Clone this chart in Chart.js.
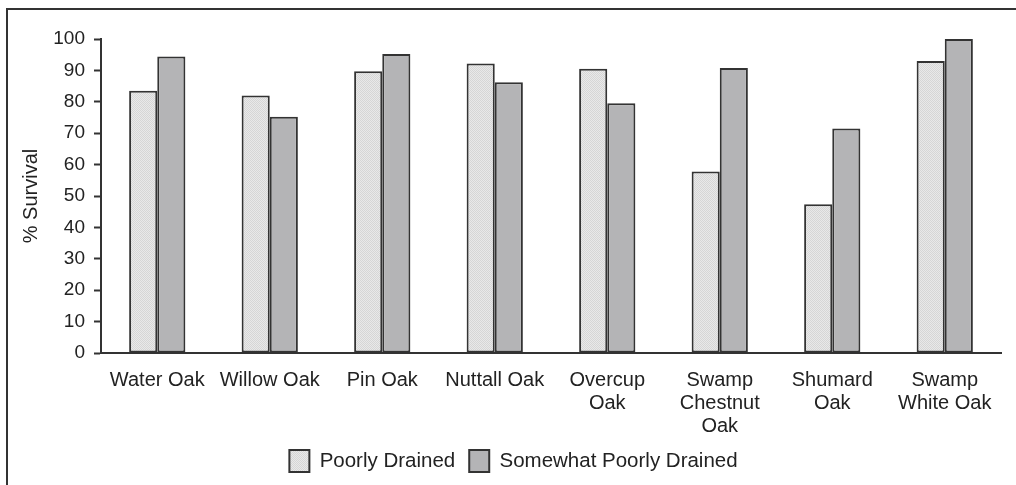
<!DOCTYPE html>
<html>
<head>
<meta charset="utf-8">
<script src="https://cdn.jsdelivr.net/npm/chart.js@4.4.1/dist/chart.umd.min.js"></script>
<style>
  html, body { margin: 0; padding: 0; background: #fff; }
  body { width: 1016px; height: 485px; position: relative; overflow: hidden; }
  .frame { position: absolute; left: 6px; top: 8px; width: 1100px; height: 600px; border-left: 2px solid #333; border-top: 2px solid #333; }
  .wrap { position: absolute; left: 0; top: 0; width: 1016px; height: 485px; }
</style>
</head>
<body>
<div class="frame"></div>
<div class="wrap"><canvas id="chart"></canvas></div>
<script>
// Supervivencia por especie y tipo de drenaje
const species = [
  ['Water Oak'], ['Willow Oak'], ['Pin Oak'], ['Nuttall Oak'],
  ['Overcup', 'Oak'], ['Swamp', 'Chestnut', 'Oak'], ['Shumard', 'Oak'], ['Swamp', 'White Oak']
];
const poorlyDrained = [83.5, 82, 89.7, 92.2, 90.5, 57.8, 47.4, 93];
const somewhatPoorly = [94.4, 75.2, 95.2, 86.2, 79.5, 90.8, 71.5, 100];
const yTicks = [0, 10, 20, 30, 40, 50, 60, 70, 80, 90, 100];

const ink = '#333';
const family = 'Liberation Sans, Arial, sans-serif';
const font = { family, size: 20, lineHeight: 1.15 };
const legendFont = { family, size: 20.5, lineHeight: 1.15 };
const tickFont = { family, size: 19 };

// textura punteada clara para "Poorly Drained"
function dotted() {
  const c = document.createElement('canvas');
  c.width = 2; c.height = 2;
  const g = c.getContext('2d');
  g.fillStyle = '#e9e9e9'; g.fillRect(0, 0, 2, 2);
  g.fillStyle = '#d6d6d6'; g.fillRect(0, 0, 1, 1); g.fillRect(1, 1, 1, 1);
  return g.createPattern(c, 'repeat');
}
const dots = dotted();

// la leyenda del original está algo desplazada a la derecha
const legendShift = {
  id: 'legendShift',
  afterLayout(chart) { chart.legend.left += 13; chart.legend.right += 13; },
};

new Chart(document.getElementById('chart'), {
  type: 'bar',
  data: {
    labels: species,
    datasets: [
      { label: 'Poorly Drained', data: poorlyDrained, backgroundColor: dots, borderColor: ink, borderWidth: 2, borderSkipped: false },
      { label: 'Somewhat Poorly Drained', data: somewhatPoorly, backgroundColor: '#b4b4b6', borderColor: ink, borderWidth: 2, borderSkipped: false },
    ],
  },
  plugins: [legendShift],
  options: {
    responsive: true, maintainAspectRatio: false, animation: false,
    datasets: { bar: { categoryPercentage: 0.5, barPercentage: 1.0 } },
    layout: { padding: { top: 39, right: 15, bottom: 3, left: 0 } },
    plugins: {
      tooltip: { enabled: false },
      legend: {
        position: 'bottom',
        labels: { color: '#222', font: legendFont, boxWidth: 20, boxHeight: 22, padding: 14 },
      },
    },
    scales: {
      x: {
        afterFit: (s) => { s.height = 83; },
        grid: { display: false, drawTicks: false },
        border: { display: true, color: ink, width: 2 },
        ticks: { color: '#222', font, padding: 16, maxRotation: 0, autoSkip: false },
      },
      y: {
        min: 0, max: 100,
        afterFit: (s) => { s.width = 101; },
        afterBuildTicks: (s) => { s.ticks = yTicks.map((v) => ({ value: v })); },
        grid: { drawOnChartArea: false, drawTicks: true, tickLength: 7, tickColor: ink, tickWidth: 2 },
        border: { display: true, color: ink, width: 2 },
        ticks: { color: '#222', font: tickFont, padding: 9 },
        title: { display: true, text: '% Survival', color: '#222', font, padding: { top: 20, bottom: 0 } },
      },
    },
  },
});
</script>
</body>
</html>
